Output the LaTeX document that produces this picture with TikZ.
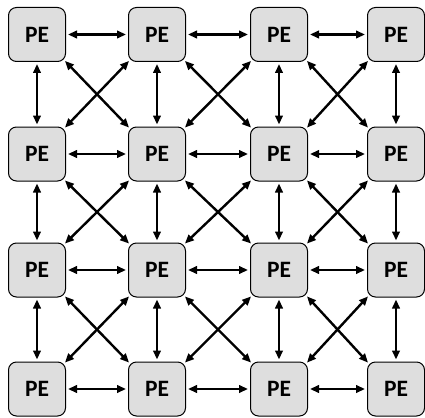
\documentclass[tikz,border=0pt]{standalone}
\usepackage{fontspec}
\setmainfont{Carlito}
\usetikzlibrary{arrows.meta}
\definecolor{pegray}{HTML}{DEDEDE}
\tikzset{
  pe/.style={draw=black, line width=1pt, fill=pegray, rounded corners=8pt,
    minimum width=57pt, minimum height=54pt, inner sep=0pt,
    font=\fontsize{23.5}{25}\selectfont\bfseries},
  tip/.tip={Triangle[length=9pt,width=7.5pt]},
  link/.style={line width=2.2pt, tip-tip, shorten >=2pt, shorten <=2pt},
  dlink/.style={line width=2.4pt, tip-tip, shorten >=-1.5pt, shorten <=-1.5pt}
}
\begin{document}
\begin{tikzpicture}[x=1pt,y=-1pt]
\useasboundingbox (0,0) rectangle (425,417);
\foreach \c/\x in {1/37,2/157,3/279,4/396}{
  \foreach \r/\y in {1/34.5,2/154,3/270,4/389}{
    \node[pe] (n\r\c) at (\x,\y) {PE};
  }
}
% horizontal
\foreach \r in {1,2,3,4}{
  \draw[link] (n\r1.east) -- (n\r2.west);
  \draw[link] (n\r2.east) -- (n\r3.west);
  \draw[link] (n\r3.east) -- (n\r4.west);
}
% vertical
\foreach \c in {1,2,3,4}{
  \draw[link] (n1\c.south) -- (n2\c.north);
  \draw[link] (n2\c.south) -- (n3\c.north);
  \draw[link] (n3\c.south) -- (n4\c.north);
}
% diagonals
\foreach \r/\rr in {1/2,2/3,3/4}{
  \foreach \c/\cc in {1/2,2/3,3/4}{
    \draw[dlink] (n\r\c.south east) -- (n\rr\cc.north west);
    \draw[dlink] (n\r\cc.south west) -- (n\rr\c.north east);
  }
}
\end{tikzpicture}
\end{document}
